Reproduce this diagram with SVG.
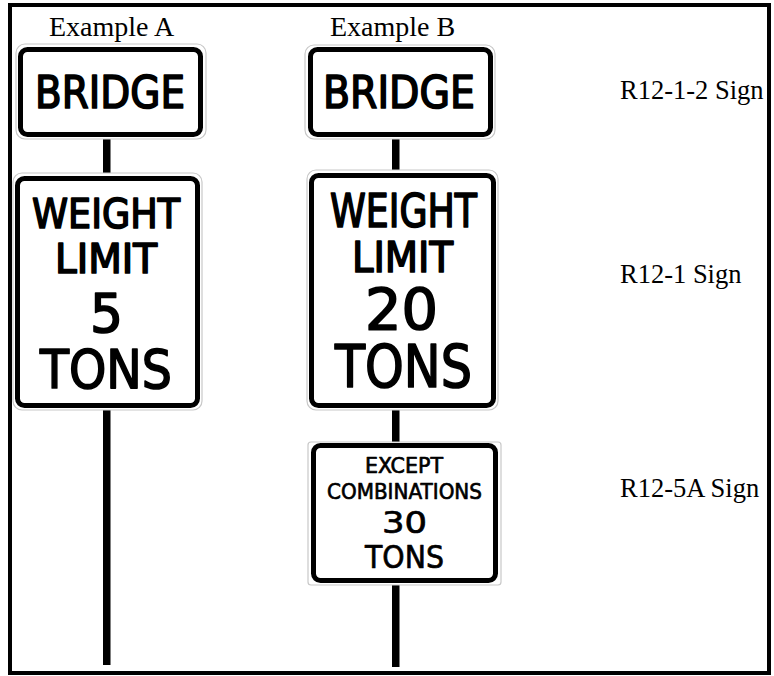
<svg xmlns="http://www.w3.org/2000/svg" width="774" height="676" viewBox="0 0 774 676">
  <style>
    .frame { fill: #fff; stroke: #000; stroke-width: 4; }
    .post { fill: #000; }
    .edge { fill: #fff; stroke: #c8c8c8; stroke-width: 1.2; }
    .border { fill: #fff; stroke: #000; stroke-width: 5; }
    .sign { font-family: "DejaVu Sans", "Liberation Sans", sans-serif; font-weight: normal; fill: #000; stroke: #000; stroke-width: 1.7; stroke-linejoin: round; }
    .small { stroke-width: 0.7; }
    .label { font-family: "Liberation Serif", "Times New Roman", serif; fill: #000; }
  </style>

  <!-- outer frame -->
  <rect class="frame" x="10" y="5" width="759" height="668"/>

  <!-- column captions -->
  <text class="label" x="49" y="36" font-size="28">Example A</text>
  <text class="label" x="330" y="36" font-size="28">Example B</text>

  <!-- sign-type captions -->
  <g id="label-r12-1-2"><text class="label" x="620" y="99" font-size="26.5">R12-1-2 Sign</text></g>
  <g id="label-r12-1"><text class="label" x="620" y="283" font-size="26.5">R12-1 Sign</text></g>
  <g id="label-r12-5a"><text class="label" x="620" y="497" font-size="26.5">R12-5A Sign</text></g>

  <!-- posts -->
  <g id="posts">
    <rect class="post" x="103" y="136" width="7.5" height="40"/>
    <rect class="post" x="103" y="406" width="7.5" height="259"/>
    <rect class="post" x="392" y="136" width="7.5" height="38"/>
    <rect class="post" x="392" y="406" width="7.5" height="40"/>
    <rect class="post" x="392" y="580" width="7.5" height="87"/>
  </g>

  <!-- Example A: BRIDGE plaque -->
  <g id="a-bridge">
    <rect class="edge" x="16" y="44" width="190" height="95" rx="9"/>
    <rect class="border" x="20.5" y="49.5" width="180" height="85" rx="7"/>
    <text class="sign" x="35" y="107.5" font-size="44" textLength="150" lengthAdjust="spacingAndGlyphs">BRIDGE</text>
  </g>

  <!-- Example A: WEIGHT LIMIT 5 TONS -->
  <g id="a-weight">
    <rect class="edge" x="13" y="173" width="189" height="237" rx="9"/>
    <rect class="border" x="17.5" y="178.5" width="180" height="227" rx="7"/>
    <text class="sign" x="32" y="227.5" font-size="41.5" textLength="148" lengthAdjust="spacingAndGlyphs">WEIGHT</text>
    <text class="sign" x="55" y="272.5" font-size="40.5" textLength="102" lengthAdjust="spacingAndGlyphs">LIMIT</text>
    <text class="sign" x="90" y="331.5" font-size="54" textLength="33" lengthAdjust="spacingAndGlyphs">5</text>
    <text class="sign" x="40" y="387.5" font-size="54" textLength="132" lengthAdjust="spacingAndGlyphs">TONS</text>
  </g>

  <!-- Example B: BRIDGE plaque -->
  <g id="b-bridge">
    <rect class="edge" x="305" y="45" width="190" height="94" rx="9"/>
    <rect class="border" x="310.5" y="49.5" width="180" height="85" rx="7"/>
    <text class="sign" x="323" y="107.5" font-size="44" textLength="152" lengthAdjust="spacingAndGlyphs">BRIDGE</text>
  </g>

  <!-- Example B: WEIGHT LIMIT 20 TONS -->
  <g id="b-weight">
    <rect class="edge" x="307" y="170" width="191" height="240" rx="9"/>
    <rect class="border" x="311.5" y="175.5" width="182" height="230" rx="7"/>
    <text class="sign" x="330" y="226.5" font-size="45.5" textLength="147" lengthAdjust="spacingAndGlyphs">WEIGHT</text>
    <text class="sign" x="352" y="271.5" font-size="43" textLength="101" lengthAdjust="spacingAndGlyphs">LIMIT</text>
    <text class="sign" x="365" y="329.5" font-size="56.5" textLength="73" lengthAdjust="spacingAndGlyphs">20</text>
    <text class="sign" x="335" y="386.5" font-size="59" textLength="137" lengthAdjust="spacingAndGlyphs">TONS</text>
  </g>

  <!-- Example B: EXCEPT COMBINATIONS 30 TONS -->
  <g id="b-except">
    <rect class="edge" x="308" y="442" width="193" height="143" rx="3"/>
    <rect class="border" x="313.5" y="445.5" width="182" height="135" rx="7"/>
    <text class="sign small" x="365" y="473" font-size="20.5" textLength="78" lengthAdjust="spacingAndGlyphs">EXCEPT</text>
    <text class="sign small" x="327" y="499" font-size="22" textLength="155" lengthAdjust="spacingAndGlyphs">COMBINATIONS</text>
    <text class="sign small" x="382" y="533" font-size="30" textLength="45" lengthAdjust="spacingAndGlyphs">30</text>
    <text class="sign small" x="365" y="568" font-size="31.5" textLength="79" lengthAdjust="spacingAndGlyphs">TONS</text>
  </g>
</svg>
